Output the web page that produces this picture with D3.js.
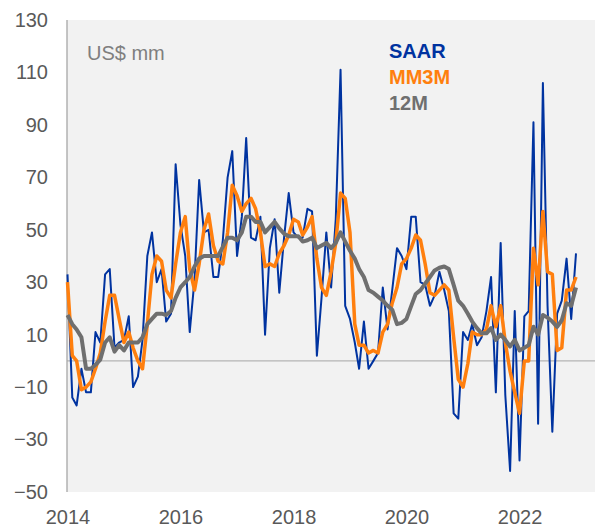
<!DOCTYPE html>
<html>
<head>
<meta charset="utf-8">
<script src="https://cdn.jsdelivr.net/npm/d3@7"></script>
<style>
  body { margin: 0; background: #fff; }
  text { font-family: "Liberation Sans", Arial, sans-serif; }
</style>
</head>
<body>
<div id="chart"></div>
<script>
// monthly values, Jan 2014 .. Jan 2023
const saar = [33, -14, -17, -3, -12, -12, 11, 7, 33, 35, 5, 7,
  8, 17, -10, -6, 8, 40, 49, 30, 35, 15, 18, 75,
  52, 40, 11, 31, 69, 49, 50, 32, 32, 46, 70, 80,
  40, 55, 85, 47, 46, 55, 10, 43, 54, 26, 47, 64,
  49, 47, 47, 58, 57, 2, 24, 49, 28, 54, 111, 21,
  16, 7, -3, 15, -3, 0, 3, 28, 12, 27, 43, 40,
  35, 55, 55, 30, 29, 21, 25, 34, 27, 19, -20, -22,
  11, 8, 14, 6, 9, 19, 32, -12, 45, -13, -42, 19,
  -38, 17, 19, 91, -24, 106, 21, -27, 18, 23, 39, 16,
  41];
const mm3m = [30, 2, 0, -11, -10, -8, -3, 3, 15, 25, 25, 16,
  7, 11, 5, 0, -3, 14, 33, 40, 38, 27, 24, 37,
  49, 55, 35, 27, 37, 50, 56, 44, 38, 37, 49, 67,
  63, 57, 60, 62, 58, 49, 36, 37, 36, 41, 44, 48,
  54, 53, 48, 51, 55, 39, 28, 25, 34, 45, 64, 62,
  49, 14, 6, 6, 3, 4, 3, 11, 14, 22, 28, 37,
  39, 43, 48, 46, 37, 26, 25, 27, 29, 27, 9, -7,
  -10, -1, 11, 10, 10, 12, 21, 13, 21, 7, -4, -12,
  -20, 0, 0, 43, 29, 57, 34, 33, 4, 5, 27, 27,
  32];
const avg12m = [17.5, 14, 12, 9, -3, -3, -1.5, 0.5, 7, 9, 3.5, 6,
  4, 7, 7, 7, 9, 14, 16, 18, 18, 17.5, 19, 24,
  28, 30, 32, 36, 39, 40, 40, 40, 40, 43.5, 47, 47,
  46, 49, 55, 55, 53, 53, 49, 51, 53, 50.5, 48.5, 47.5,
  47.5, 47.5, 45.5, 46, 47, 43, 44, 45, 43, 45, 49, 45.5,
  42, 39, 35, 32, 27, 26, 24.5, 23, 21, 19.5, 14, 14.5,
  16, 21, 25.5, 27, 29.5, 32, 34.5, 35.5, 36, 35, 29, 23,
  21, 18, 15, 12.5, 10.5, 10.5, 12.5, 8, 10, 8, 5.5, 8,
  4, 5, 6, 13, 10, 17.5, 16.5, 15, 13, 15.5, 22, 21,
  28];

const seriesNames = ["SAAR", "MM3M", "12M"];
const seriesColors = ["#0033a0", "#ff7f0e", "#6f6f6f"];
const seriesWidths = [2, 3.5, 4];
const yTicks = [-50, -30, -10, 10, 30, 50, 70, 90, 110, 130];
const xTickYears = [2014, 2016, 2018, 2020, 2022];
const unitLabel = "US$ mm";

const W = 595, H = 528;
const plot = { left: 67, right: 595, top: 20, bottom: 492 };

const svg = d3.select("#chart").append("svg")
  .attr("width", W)
  .attr("height", H);

const start = new Date(2014, 0, 1);
const dates = saar.map((d, i) => d3.timeMonth.offset(start, i));

const x = d3.scaleTime()
  .domain([start, new Date(2023, 0, 1)])
  .range([67.5, 576]);

const y = d3.scaleLinear()
  .domain([-50, 130])
  .range([plot.bottom, plot.top]);

// plot background
svg.append("rect")
  .attr("x", plot.left)
  .attr("y", plot.top)
  .attr("width", plot.right - plot.left)
  .attr("height", plot.bottom - plot.top)
  .attr("fill", "#f2f2f2");

// zero line
svg.append("line")
  .attr("x1", plot.left).attr("x2", plot.right)
  .attr("y1", y(0)).attr("y2", y(0))
  .attr("stroke", "#b4b4b4")
  .attr("stroke-width", 1.3);

// left axis line
svg.append("line")
  .attr("x1", plot.left).attr("x2", plot.left)
  .attr("y1", plot.top).attr("y2", plot.bottom)
  .attr("stroke", "#a6a6a6")
  .attr("stroke-width", 1.3);

// Y axis
const gy = svg.append("g")
  .attr("transform", `translate(${plot.left},0)`)
  .call(d3.axisLeft(y).tickValues(yTicks).tickSize(0).tickPadding(19));
gy.select(".domain").remove();
gy.selectAll("text")
  .attr("fill", "#595959")
  .style("font-size", "20px")
  .style("font-family", '"Liberation Sans", Arial, sans-serif');

// X axis
const gx = svg.append("g")
  .attr("transform", `translate(0,${plot.bottom})`)
  .call(d3.axisBottom(x)
    .tickValues(xTickYears.map(yr => new Date(yr, 0, 1)))
    .tickFormat(d3.timeFormat("%Y"))
    .tickSize(0).tickPadding(18));
gx.select(".domain").remove();
gx.selectAll("text")
  .attr("fill", "#595959")
  .style("font-size", "20px")
  .style("font-family", '"Liberation Sans", Arial, sans-serif');

// lines
const line = d3.line()
  .x((d, i) => x(dates[i]))
  .y(d => y(d));

[saar, mm3m, avg12m].forEach((vals, k) => {
  svg.append("path")
    .datum(vals)
    .attr("fill", "none")
    .attr("stroke", seriesColors[k])
    .attr("stroke-width", seriesWidths[k])
    .attr("stroke-linejoin", "round")
    .attr("d", line);
});

// unit label
svg.append("text")
  .attr("x", 87)
  .attr("y", 60)
  .attr("fill", "#7f7f7f")
  .style("font-size", "20px")
  .text(unitLabel);

// legend
svg.selectAll("text.legend")
  .data(seriesNames)
  .join("text")
  .attr("class", "legend")
  .attr("x", 389)
  .attr("y", (d, i) => 58 + i * 26)
  .attr("fill", (d, i) => seriesColors[i])
  .style("font-size", "20px")
  .style("font-weight", "bold")
  .text(d => d);
</script>
</body>
</html>
